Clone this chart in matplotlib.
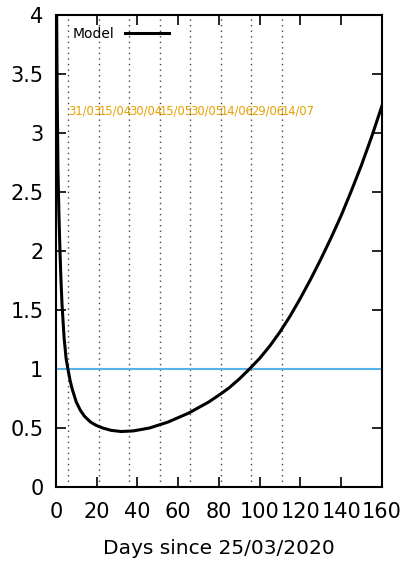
import numpy as np
import matplotlib
matplotlib.use('Agg')
import matplotlib.pyplot as plt

# model curve
days = [0, 0.3, 0.6, 1, 1.5, 2, 2.5, 3, 4, 5, 6, 7, 8, 10, 12, 14, 17, 20, 23, 27,
        32, 38, 46, 55, 65, 75, 81, 85, 90, 95, 100, 105, 110, 115, 120, 125,
        130, 135, 140, 145, 150, 155, 160]
model = [5.5, 4.2, 3.4, 2.7, 2.3, 2.0, 1.75, 1.55, 1.27, 1.09, 0.99, 0.9, 0.83,
         0.72, 0.65, 0.6, 0.55, 0.52, 0.5, 0.48, 0.47, 0.475, 0.5, 0.55, 0.625,
         0.72, 0.79, 0.84, 0.915, 1.0, 1.09, 1.195, 1.315, 1.45, 1.60, 1.76,
         1.93, 2.11, 2.30, 2.51, 2.73, 2.97, 3.23]

# marker dates (days since 25/03/2020)
mark_days = [6, 21, 36, 51, 66, 81, 96, 111]
mark_labels = ['31/03', '15/04', '30/04', '15/05', '30/05', '14/06', '29/06', '14/07']

xticks = [0, 20, 40, 60, 80, 100, 120, 140, 160]
yticks = [0, 0.5, 1, 1.5, 2, 2.5, 3, 3.5, 4]
ytick_labels = ['0', '0.5', '1', '1.5', '2', '2.5', '3', '3.5', '4']

fig = plt.figure(figsize=(4.08, 5.61), dpi=100)
ax = fig.add_axes([0.137, 0.132, 0.799, 0.841])

for d, lab in zip(mark_days, mark_labels):
    ax.axvline(d, color='#444444', lw=1.0, ls=(0, (1, 3)), zorder=1)
    ax.text(d, 3.19, lab, color='#E69F00', fontsize=8.3, ha='left', va='center')

ax.axhline(1, color='#56B4E9', lw=1.5, zorder=2)
ax.plot(days, model, color='k', lw=2.2, label='Model', zorder=3)

ax.set_xlim(0, 160)
ax.set_ylim(0, 4)
ax.set_xticks(xticks)
ax.set_xticklabels([str(t) for t in xticks])
ax.set_yticks(yticks)
ax.set_yticklabels(ytick_labels)
ax.tick_params(direction='in', length=7, width=1.2, top=True, right=True,
               labelsize=15, pad=9)
ax.tick_params(axis='x', pad=11)
for s in ax.spines.values():
    s.set_linewidth(1.5)

ax.set_xlabel('Days since 25/03/2020', fontsize=14.5, labelpad=12)

ax.legend(loc='upper left', frameon=False, markerfirst=False, fontsize=10,
          handlelength=3.2, borderaxespad=0.3, bbox_to_anchor=(0.02, 0.995))

fig.savefig('out.png', dpi=100)
